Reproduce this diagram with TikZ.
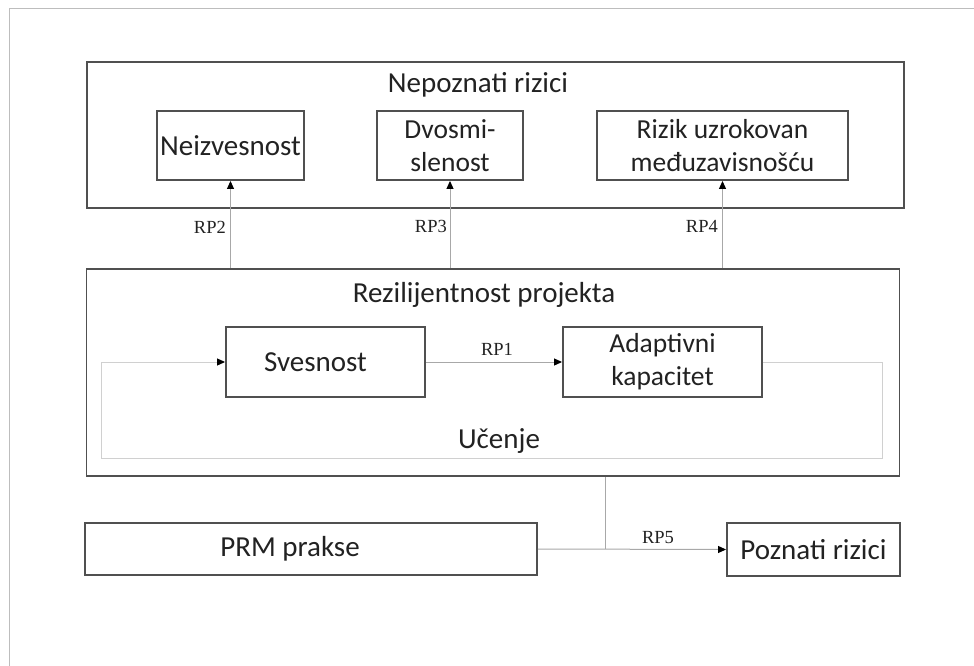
\documentclass[tikz,border=0pt]{standalone}
\usepackage{fontspec}
\setmainfont{Carlito}
\newfontfamily\rpfont{Liberation Serif}
\usetikzlibrary{arrows.meta}
\definecolor{boxline}{HTML}{505050}
\definecolor{wire}{HTML}{A8A8A8}
\definecolor{loopline}{HTML}{D0D0D0}
\definecolor{frameline}{HTML}{BDBDBD}
\definecolor{ink}{HTML}{222222}
\begin{document}
\begin{tikzpicture}[x=1pt,y=-1pt,
  box/.style={draw=boxline,line width=1.9pt,inner sep=0pt,text=ink,align=center,
              font=\fontsize{29}{34}\selectfont},
  twoline/.style={font=\fontsize{27.5}{33}\selectfont},
  heading/.style={inner sep=0pt,text=ink,font=\fontsize{29}{34}\selectfont},
  rplabel/.style={inner sep=0pt,text=ink,font=\rpfont\fontsize{18.5}{20}\selectfont},
  tip/.style={-{Triangle[length=8pt,width=7pt,color=black]}},
  wireline/.style={draw=wire,line width=1pt},
  loopwire/.style={draw=loopline,line width=1pt}]
\useasboundingbox (0,0) rectangle (974,666);

% page frame
\draw[frameline,line width=1pt] (9,666) -- (9,9) -- (974,9);

% unknown risks group
\node[box,minimum width=817pt,minimum height=146pt] (top) at (495.5,135) {};
\node[heading,anchor=base] (toptitle) at (478,93) {Nepoznati rizici};
\node[box,minimum width=147pt,minimum height=69pt] (neiz) at (230.5,145.5) {Neizvesnost};
\node[box,twoline,minimum width=146pt,minimum height=69pt] (dvo) at (450,145.5) {Dvosmi-\\slenost};
\node[box,twoline,minimum width=251pt,minimum height=69pt] (rizik) at (722.5,145.5) {Rizik uzrokovan\\međuzavisnošću};

% project resilience group
\node[box,minimum width=813pt,minimum height=207pt] (rez) at (493,372.5) {};
\node[heading,anchor=base] (reztitle) at (484,302) {Rezilijentnost projekta};
\node[box,minimum width=199pt,minimum height=70pt] (sves) at (325.5,362) {};
\node[heading] (svestext) at ([xshift=-10pt]sves.center) {Svesnost};
\node[box,twoline,minimum width=199pt,minimum height=70pt] (adap) at (662.5,362) {Adaptivni\\kapacitet};
\node[heading,anchor=base] (ucenje) at (499,448) {Učenje};

% practices and known risks
\node[box,minimum width=452pt,minimum height=52pt] (prm) at (311,549) {};
\node[heading] (prmtext) at ([xshift=-21pt]prm.center) {PRM prakse};
\node[box,minimum width=173pt,minimum height=53pt] (pozn) at (813.5,549.5) {Poznati rizici};

% learning loop
\coordinate (loopR) at (882,458);
\coordinate (loopL) at (101,458);
\draw[loopwire,tip] (adap.east) -| (loopR) -- (loopL) |- (sves.west);

% relations
\draw[wireline,tip] (sves.east) -- (adap.west);
\node[rplabel,anchor=base] (rp1) at (497,355) {RP1};

\draw[wireline,tip] (neiz.south |- rez.north) -- (neiz.south);
\node[rplabel,anchor=base east] (rp2) at (226,233) {RP2};
\draw[wireline,tip] (dvo.south |- rez.north) -- (dvo.south);
\node[rplabel,anchor=base east] (rp3) at (447,232) {RP3};
\draw[wireline,tip] (rizik.south |- rez.north) -- (rizik.south);
\node[rplabel,anchor=base east] (rp4) at (718,232) {RP4};

\coordinate (junc) at (605,549);
\draw[wireline] (rez.south -| junc) -- (junc);
\draw[wireline,tip] (prm.east) -- (pozn.west);
\node[rplabel,anchor=base] (rp5) at (658,543) {RP5};
\end{tikzpicture}
\end{document}
